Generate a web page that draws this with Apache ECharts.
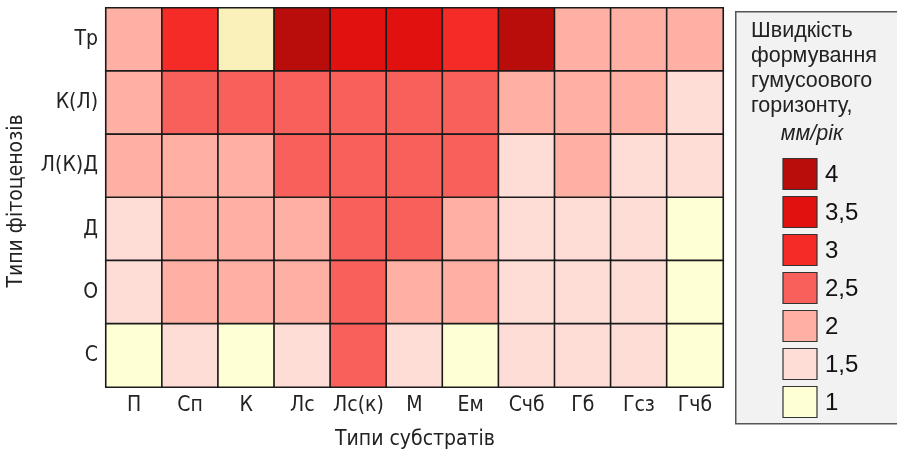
<!DOCTYPE html>
<html>
<head>
<meta charset="utf-8">
<script src="https://cdn.jsdelivr.net/npm/echarts@6/dist/echarts.min.js"></script>
<style>
  html, body { margin: 0; padding: 0; background: #fff; }
  #chart { width: 897px; height: 455px; }
</style>
</head>
<body>
<div id="chart"></div>
<script>
// Substrate types (columns) and phytocenosis types (rows, top to bottom)
const substrates = ['П', 'Сп', 'К', 'Лс', 'Лс(к)', 'М', 'Ем', 'Счб', 'Гб', 'Гсз', 'Гчб'];
const phytocenoses = ['Тр', 'К(Л)', 'Л(К)Д', 'Д', 'О', 'С'];

// Humus horizon formation rate, mm/year, one array per phytocenosis row
const rateTr   = [2, 3, 1, 4, 3.5, 3.5, 3, 4, 2, 2, 2];
const rateKL   = [2, 2.5, 2.5, 2.5, 2.5, 2.5, 2.5, 2, 2, 2, 1.5];
const rateLKD  = [2, 2, 2, 2.5, 2.5, 2.5, 2.5, 1.5, 2, 1.5, 1.5];
const rateD    = [1.5, 2, 2, 2, 2.5, 2.5, 2, 1.5, 1.5, 1.5, 1];
const rateO    = [1.5, 2, 2, 2, 2.5, 2, 2, 1.5, 1.5, 1.5, 1];
const rateS    = [1, 1.5, 1, 1.5, 2.5, 1.5, 1, 1.5, 1.5, 1.5, 1];
const rateRows = [rateTr, rateKL, rateLKD, rateD, rateO, rateS];

// Colour scale classes (legend, top to bottom)
const legendValues = [4, 3.5, 3, 2.5, 2, 1.5, 1];
const legendLabels = ['4', '3,5', '3', '2,5', '2', '1,5', '1'];
const legendColors = ['#B90D0B', '#E0110E', '#F52B27', '#F8605C', '#FDB0A3', '#FEDDD7', '#FFFFD6'];

const titleLines = ['Швидкість', 'формування', 'гумусоового', 'горизонту,'];
const unitText = 'мм/рік';

function colorFor(v) {
  const i = legendValues.indexOf(v);
  return i >= 0 ? legendColors[i] : '#ffffff';
}

const cellData = [];
rateRows.forEach(function (row, r) {
  row.forEach(function (v, c) {
    const item = { value: [c, r, v], itemStyle: { color: colorFor(v) } };
    // the tundra/К cell is printed in a warmer cream tone
    if (r === 0 && c === 2) item.itemStyle.color = '#FAF0B9';
    cellData.push(item);
  });
});

const narrow = '"Liberation Sans Narrow", "DejaVu Sans Condensed", "Liberation Sans", sans-serif';
const sans = '"Liberation Sans", Arial, sans-serif';

const graphics = [];
// legend frame
graphics.push({
  type: 'rect', left: 735, top: 11, silent: true,
  shape: { width: 180, height: 412 },
  style: { fill: '#F2F2F2', stroke: '#555', lineWidth: 1.5 }
});
titleLines.forEach(function (t, i) {
  graphics.push({
    type: 'text', x: 751, y: 31 + i * 25, silent: true,
    style: { text: t, font: '21.5px ' + sans, fill: '#222', align: 'left', verticalAlign: 'middle' }
  });
});
graphics.push({
  type: 'text', x: 812, y: 134, silent: true,
  style: { text: unitText, font: 'italic 21.5px ' + sans, fill: '#222', align: 'center', verticalAlign: 'middle' }
});
legendValues.forEach(function (v, i) {
  const cy = 174 + i * 38;
  graphics.push({
    type: 'rect', x: 783, y: cy - 15.5, silent: true,
    shape: { width: 34, height: 31 },
    style: { fill: legendColors[i], stroke: '#333', lineWidth: 1.2 }
  });
  graphics.push({
    type: 'text', x: 825, y: cy + 1, silent: true,
    style: { text: legendLabels[i], font: '24px ' + sans, fill: '#111', align: 'left', verticalAlign: 'middle' }
  });
});
// axis titles
graphics.push({
  type: 'text', x: 17, y: 201, rotation: Math.PI / 2, silent: true,
  style: { text: 'Типи фітоценозів', font: '21px ' + narrow, fill: '#222', align: 'center', verticalAlign: 'middle' }
});
graphics.push({
  type: 'text', x: 415, y: 440, silent: true,
  style: { text: 'Типи субстратів', font: '21px ' + narrow, fill: '#222', align: 'center', verticalAlign: 'middle' }
});

const chart = echarts.init(document.getElementById('chart'), null, { renderer: 'canvas' });
chart.setOption({
  animation: false,
  backgroundColor: '#ffffff',
  grid: { left: 106, right: 174, top: 8, bottom: 68 },
  xAxis: {
    type: 'category',
    data: substrates,
    axisLine: { show: false },
    axisTick: { show: false },
    splitLine: { show: false },
    axisLabel: { color: '#222', fontSize: 21, fontFamily: narrow, margin: 8, interval: 0 }
  },
  yAxis: {
    type: 'category',
    data: phytocenoses,
    inverse: true,
    axisLine: { show: false },
    axisTick: { show: false },
    splitLine: { show: false },
    axisLabel: { color: '#222', fontSize: 21, fontFamily: narrow, margin: 8 }
  },
  series: [{
    type: 'heatmap',
    data: cellData,
    itemStyle: { borderColor: '#1b1b1b', borderWidth: 1.6 },
    emphasis: { disabled: true }
  }],
  graphic: graphics
});
</script>
</body>
</html>
